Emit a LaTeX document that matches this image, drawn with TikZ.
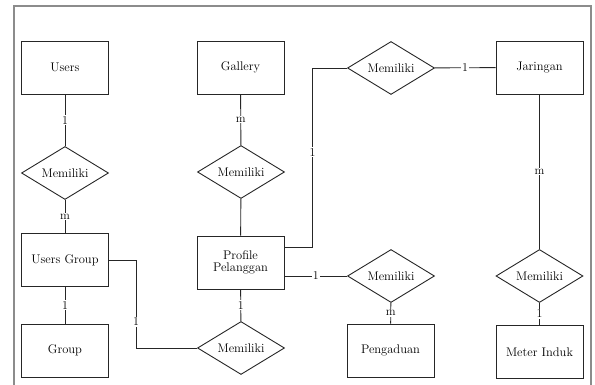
\documentclass[tikz,border=0pt]{standalone}
\usepackage{xcolor}
\definecolor{framegray}{HTML}{8C8C8C}
\definecolor{linegray}{HTML}{262626}
\usepackage{tikz}
\usetikzlibrary{shapes.geometric,positioning,calc}

\begin{document}
\begin{tikzpicture}[x=1pt,y=-1pt,
    every node/.style={font=\rmfamily\fontsize{12.5}{14}\selectfont},
    entity/.style={draw=linegray, line width=0.9pt, minimum width=87pt, minimum height=53pt, align=center, inner sep=2pt},
    relation/.style={draw=linegray, line width=0.9pt, diamond, aspect=1.65, minimum width=87pt, minimum height=53pt, inner sep=0pt},
    link/.style={draw=linegray, line width=0.9pt},
    card/.style={fill=white, inner sep=1pt, font=\rmfamily\fontsize{12}{14}\selectfont}]
        \useasboundingbox (0,0) rectangle (595,385);
        % Frame
        \draw[framegray, line width=2pt] (13.5,390) -- (13.5,6.5) -- (591,6.5) -- (591,390);
        % Entities
        \node[entity] (users) at (65,67.5) {Users};
        \node[entity] (gallery) at (240.5,67.5) {Gallery};
        \node[entity] (jaringan) at (539.5,67.5) {Jaringan};
        \node[entity] (usersgroup) at (65,260) {Users Group};
        \node[entity] (profile) at (240.5,262.5) {Profile\\[-2pt]Pelanggan};
        \node[entity] (group) at (65,350.5) {Group};
        \node[entity] (pengaduan) at (390.5,350.5) {Pengaduan};
        \node[entity] (meterinduk) at (539.5,352) {Meter Induk};
        % Relations
        \node[relation] (relusers) at (65,173) {Memiliki};
        \node[relation] (relgallery) at (241,172) {Memiliki};
        \node[relation] (reljaringan) at (391,68) {Memiliki};
        \node[relation] (relpengaduan) at (391,276) {Memiliki};
        \node[relation] (relmeter) at (539.5,276) {Memiliki};
        \node[relation] (relgroup) at (241,348) {Memiliki};
        % Connectors
        \draw[link] (users) -- node[card] {1} (relusers);
        \draw[link] (relusers) -- node[card] {m} (usersgroup);
        \draw[link] (gallery) -- node[card] {m} (relgallery);
        \draw[link] (relgallery) -- (profile);
        \draw[link] (usersgroup) -- node[card] {1} (group);
        \draw[link] (usersgroup.east) -- ++(27,0) |- node[card, pos=0.35] {1} (relgroup.west);
        \draw[link] (profile) -- node[card] {1} (relgroup);
        \draw[link] ([yshift=15.5pt]profile.east) -- ++(28,0) |- node[card, pos=0.265] {1} (reljaringan.west);
        \draw[link] (reljaringan) -- node[card] {1} (jaringan);
        \draw[link] (jaringan) -- node[card] {m} (relmeter);
        \draw[link] (relmeter) -- node[card] {1} (meterinduk);
        \draw[link] ([yshift=-13.5pt]profile.east) -- node[card] {1} (relpengaduan.west);
        \draw[link] (relpengaduan) -- node[card] {m} (pengaduan);
      \end{tikzpicture}
\end{document}
